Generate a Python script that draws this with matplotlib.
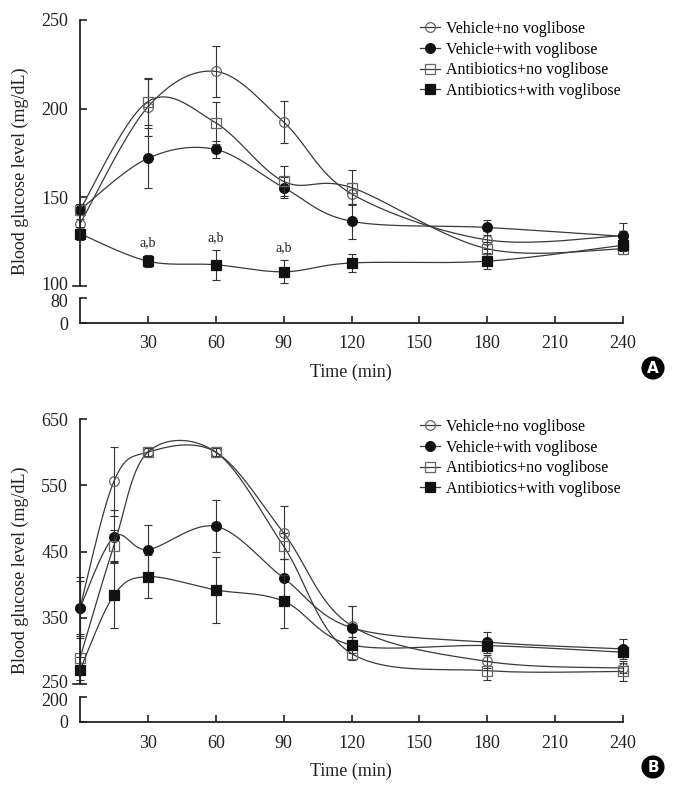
"""
Blood glucose time course, two panels (A and B) with broken y axes.
"""
import numpy as np
import matplotlib
matplotlib.use("Agg")
import matplotlib.pyplot as plt
from matplotlib.transforms import ScaledTranslation

plt.rcParams["font.family"] = ["Liberation Serif", "DejaVu Serif"]

# ---- data, panel A ----
time_a = [0, 30, 60, 90, 120, 180, 240]
veh_no_a = [135, 201, 221, 192.5, 152, 126, 128.5]
veh_no_a_err = [3, 16.5, 14.5, 12, 6, 5, 7]
veh_with_a = [143, 172, 177, 155.5, 136.5, 133, 128]
veh_with_a_err = [3, 17, 5, 6, 10, 4.5, 3]
abx_no_a = [143, 204, 192, 159, 155.5, 121, 121]
abx_no_a_err = [3, 13, 12, 8.5, 10, 4, 3]
abx_with_a = [129.5, 114, 112, 108, 113, 114, 123]
abx_with_a_err = [3.5, 3.5, 8.5, 6.5, 5, 4.5, 3]
sig_times_a = [30, 60, 90]
sig_label = "a,b"

# ---- data, panel B ----
time_b = [0, 15, 30, 60, 90, 120, 180, 240]
veh_no_b = [365, 556, 600, 600, 478, 338, 284, 274]
veh_no_b_err = [46, 52, 8, 8, 40, 29, 10, 8]
veh_with_b = [365, 472, 453, 488, 410, 335, 313, 303]
veh_with_b_err = [40, 40, 37, 39, 28, 32, 16, 15]
abx_no_b = [289, 459, 600, 600, 458, 296, 270, 269]
abx_no_b_err = [33, 24, 6, 6, 20, 10, 14, 15]
abx_with_b = [271, 384, 412, 392, 375, 309, 308, 298]
abx_with_b_err = [20, 50, 32, 50, 40, 12, 8, 6]

group_names = [
    "Vehicle+no voglibose",
    "Vehicle+with voglibose",
    "Antibiotics+no voglibose",
    "Antibiotics+with voglibose",
]
x_ticks = [30, 60, 90, 120, 150, 180, 210, 240]

W, H = 680, 789
LINE = "#3a3a3a"
OPEN_EDGE = "#666666"
styles = [
    dict(marker="o", mfc="none", mec=OPEN_EDGE),
    dict(marker="o", mfc="#111111", mec="#111111"),
    dict(marker="s", mfc="none", mec=OPEN_EDGE),
    dict(marker="s", mfc="#111111", mec="#111111"),
]


def smooth(ax, x, y, n=40):
    """Excel-like smoothed line, computed in display space."""
    pts = ax.transData.transform(np.column_stack([x, y]))
    p = np.vstack([pts[0], pts, pts[-1]])
    t = np.linspace(0, 1, n)[:, None]
    out = []
    for i in range(1, len(p) - 2):
        p0, p3 = p[i], p[i + 1]
        c1 = p0 + (p[i + 1] - p[i - 1]) / 6
        c2 = p3 - (p[i + 2] - p[i]) / 6
        seg = (1 - t) ** 3 * p0 + 3 * (1 - t) ** 2 * t * c1 \
            + 3 * (1 - t) * t ** 2 * c2 + t ** 3 * p3
        out.append(seg if i == 1 else seg[1:])
    return ax.transData.inverted().transform(np.vstack(out))


def rect(left, top, right, bottom):
    return [left / W, 1 - bottom / H, (right - left) / W, (bottom - top) / H]


def nudge(label, dy_px):
    label.set_transform(label.get_transform()
                        + ScaledTranslation(0, dy_px / 100, label.figure.dpi_scale_trans))


def draw_panel(fig, top_px, brk_px, lo_px, hi_lim, hi_ticks, lo_lim, lo_ticks,
               times, series, errs, legend_top):
    ax = fig.add_axes(rect(80, top_px, 623, brk_px[0]))
    axl = fig.add_axes(rect(80, brk_px[1], 623, lo_px))
    for a in (ax, axl):
        a.set_xlim(0, 240)
        a.patch.set_alpha(0)
        for s in ("top", "right"):
            a.spines[s].set_visible(False)
        a.spines["left"].set_linewidth(1.3)
        a.spines["left"].set_color("#222222")
        a.tick_params(direction="in", length=5, width=1.2, labelsize=13,
                      colors="#222222", pad=8.5)
    ax.set_ylim(*hi_lim)
    ax.set_yticks(hi_ticks)
    ax.spines["bottom"].set_visible(False)
    ax.set_xticks([])
    ax.plot([-0.013, 0], [0, 0], transform=ax.transAxes, color="#222222",
            lw=1.2, clip_on=False)
    axl.set_ylim(*lo_lim)
    axl.set_yticks(lo_ticks)
    axl.set_xticks(x_ticks)
    axl.spines["bottom"].set_linewidth(1.3)
    axl.spines["bottom"].set_color("#222222")
    axl.tick_params(axis="x", pad=9)
    # pull the two labels at the break slightly apart
    nudge(ax.get_yticklabels()[0], 2)
    nudge(axl.get_yticklabels()[-1], -2)

    for vals, err, st in zip(series, errs, styles):
        ax.errorbar(times, vals, yerr=err, fmt="none", ecolor="#333333",
                    elinewidth=0.8, capsize=3, capthick=0.8, clip_on=False)
        cx, cy = smooth(ax, times, vals).T
        ax.plot(cx, cy, color=LINE, lw=0.9, clip_on=False)
        ax.plot(times, vals, ls="none", ms=7, mew=0.9, clip_on=False, **st)

    proxies = [plt.Line2D([], [], color=LINE, lw=0.9, ms=7, mew=0.9, **st)
               for st in styles]
    fig.legend(proxies, group_names, loc="upper left",
               bbox_to_anchor=(420 / W, 1 - legend_top / H), frameon=False,
               fontsize=11.5, handlelength=1.25, handletextpad=0.35,
               labelspacing=0.29, borderpad=0, borderaxespad=0)
    return ax, axl


fig = plt.figure(figsize=(W / 100, H / 100), dpi=100)

ax_a, axl_a = draw_panel(
    fig, 20, (286, 298), 323, (100, 250), [100, 150, 200, 250], (0, 80), [0, 80],
    time_a, [veh_no_a, veh_with_a, abx_no_a, abx_with_a],
    [veh_no_a_err, veh_with_a_err, abx_no_a_err, abx_with_a_err], 21)
for t in sig_times_a:
    i = time_a.index(t)
    ax_a.text(t, abx_with_a[i] + abx_with_a_err[i] + 7, sig_label,
              ha="center", va="center", fontsize=10, color="#222222")

ax_b, axl_b = draw_panel(
    fig, 419, (684, 697), 722, (250, 650), [250, 350, 450, 550, 650], (0, 200),
    [0, 200], time_b, [veh_no_b, veh_with_b, abx_no_b, abx_with_b],
    [veh_no_b_err, veh_with_b_err, abx_no_b_err, abx_with_b_err], 419)

for yc in (171.5, 570.5):
    fig.text(20 / W, 1 - yc / H, "Blood glucose level (mg/dL)", rotation=90,
             ha="center", va="center", fontsize=13, color="#222222")
for yc, lbl in [(372, "A"), (771, "B")]:
    fig.text(351 / W, 1 - yc / H, "Time (min)", ha="center", va="center",
             fontsize=13, color="#222222")
    fig.text(653 / W, 1 - (yc - 4) / H, lbl, ha="center", va="center",
             fontsize=11, fontweight="bold", color="white", family="DejaVu Sans",
             bbox=dict(boxstyle="circle,pad=0.22", fc="black", ec="black"))

fig.savefig("out.png", dpi=100)
